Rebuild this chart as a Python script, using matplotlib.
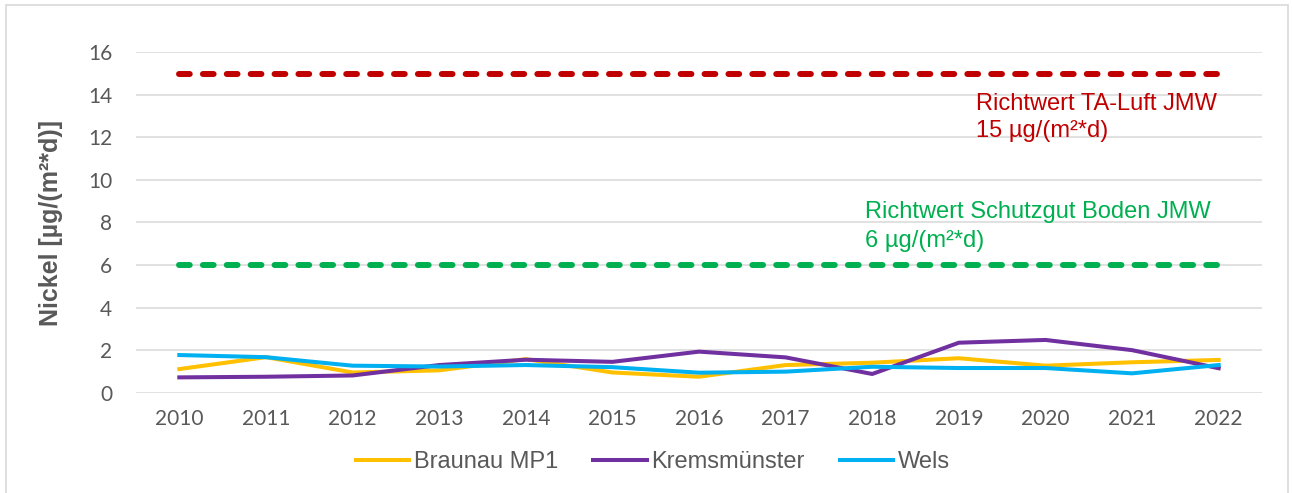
import matplotlib
matplotlib.use("Agg")
import matplotlib.pyplot as plt
from matplotlib.patches import Rectangle

years = ["2010", "2011", "2012", "2013", "2014", "2015", "2016",
         "2017", "2018", "2019", "2020", "2021", "2022"]
braunau = [1.11, 1.67, 0.95, 1.05, 1.58, 0.95, 0.75, 1.30, 1.41, 1.62, 1.27, 1.43, 1.54]
kremsmuenster = [0.72, 0.75, 0.81, 1.30, 1.55, 1.45, 1.93, 1.66, 0.88, 2.35, 2.48, 2.00, 1.15]
wels = [1.77, 1.67, 1.27, 1.23, 1.30, 1.20, 0.94, 0.99, 1.22, 1.16, 1.16, 0.91, 1.30]
limit_ta_luft = 15
limit_boden = 6

grey = "#595959"
text_font = "Liberation Sans"
tick_font = "Lato"

fig = plt.figure(figsize=(12.92, 4.93), dpi=100)
ax = fig.add_axes([136 / 1292, 1 - 392.7 / 493, 1126 / 1292, 340.4 / 493])

x = list(range(len(years)))

# limit values
ax.plot(x, [limit_ta_luft] * len(x), color="#C00000", lw=4.3,
        dashes=(1.8, 2.2), dash_capstyle="round", zorder=3)
ax.plot(x, [limit_boden] * len(x), color="#00B050", lw=4.3,
        dashes=(1.8, 2.2), dash_capstyle="round", zorder=3)

# measured series
ax.plot(x, braunau, color="#FFC000", lw=2.9, label="Braunau MP1", zorder=4)
ax.plot(x, kremsmuenster, color="#7030A0", lw=2.9, label="Kremsmünster", zorder=4)
ax.plot(x, wels, color="#00B0F0", lw=2.9, label="Wels", zorder=4)

ax.set_xlim(-0.5, len(years) - 0.5)
ax.set_ylim(0, 16)
ax.set_yticks(range(0, 17, 2))
ax.set_xticks(x)
ax.set_xticklabels(years)
ax.grid(axis="y", color="#D9D9D9", lw=1.1)
ax.set_axisbelow(True)
for s in ax.spines.values():
    s.set_visible(False)
ax.tick_params(length=0, colors=grey, labelsize=15)
ax.tick_params(axis="y", pad=17)
ax.tick_params(axis="x", pad=12)
for lab in ax.get_xticklabels() + ax.get_yticklabels():
    lab.set_fontfamily(tick_font)

ax.set_ylabel("Nickel [µg/(m²*d)]", fontsize=18, fontweight="bold",
              color=grey, family=text_font, labelpad=18)

# annotations
ax.text(9.2, 13.29, "Richtwert TA-Luft JMW", color="#C00000", fontsize=17,
        family=text_font, va="baseline")
ax.text(9.2, 12.01, "15 µg/(m²*d)", color="#C00000", fontsize=17,
        family=text_font, va="baseline")
ax.text(7.92, 8.20, "Richtwert Schutzgut Boden JMW", color="#00B050", fontsize=17,
        family=text_font, va="baseline")
ax.text(7.92, 6.86, "6 µg/(m²*d)", color="#00B050", fontsize=17,
        family=text_font, va="baseline")

leg = fig.legend(loc="center", bbox_to_anchor=(653 / 1292, 1 - 462 / 493), ncol=3,
                 frameon=False, handlelength=2.25, handletextpad=0.2,
                 columnspacing=1.5, prop={"family": text_font, "size": 17})
for t in leg.get_texts():
    t.set_color(grey)

# chart border
fig.patches.append(Rectangle((6 / 1292, -0.02), 1282 / 1292, 1.02 - 5 / 493,
                             transform=fig.transFigure, fill=False,
                             edgecolor="#D9D9D9", lw=1.2))

fig.savefig("out.png", dpi=100)
